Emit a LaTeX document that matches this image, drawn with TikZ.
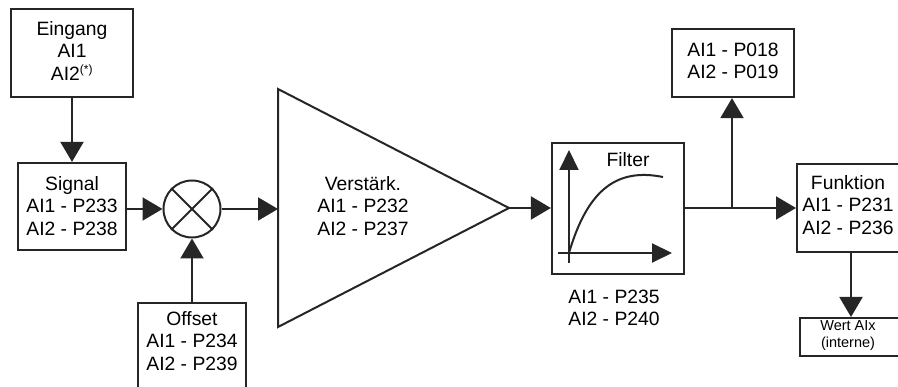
\documentclass[tikz,border=0pt]{standalone}
\usepackage{fontspec}
\setmainfont{Liberation Sans}
\usetikzlibrary{arrows.meta}
\definecolor{ink}{HTML}{262626}
\tikzset{
  box/.style={draw=ink, line width=2.2pt, fill=white, inner sep=0pt},
  lbl/.style={align=center, inner sep=0pt, text=black,
    font=\fontsize{19.3}{22.7}\selectfont},
  small/.style={align=center, inner sep=0pt, text=black,
    font=\fontsize{14.5}{17}\selectfont},
  conn/.style={draw=ink, line width=2pt,
    -{Triangle[length=20pt, width=23pt]}},
  wire/.style={draw=ink, line width=2pt},
  axis/.style={draw=ink, line width=2pt,
    -{Triangle[length=20pt, width=19pt]}},
}
\begin{document}
\begin{tikzpicture}[x=1pt, y=-1pt]
  \useasboundingbox (0,0) rectangle (898,387);
  \clip (0,0) rectangle (898,387);

  % input selection
  \node[box, minimum width=122pt, minimum height=88pt] (ein) at (72,53) {};
  \node[lbl] at (72,51) {Eingang\\AI1\\AI2\textsuperscript{\fontsize{12}{12}\selectfont(*)}};

  % signal type
  \node[box, minimum width=108pt, minimum height=87pt] (sig) at (72,206.5) {};
  \node[lbl] at (72,206) {Signal\\AI1 - P233\\AI2 - P238};

  % summing junction
  \node[draw=ink, line width=2pt, circle, minimum size=57pt, inner sep=0pt] (mix) at (192,209) {};
  \draw[ink, line width=2pt] (mix.north west) -- (mix.south east)
                             (mix.north east) -- (mix.south west);

  % offset (box runs past the lower edge)
  \node[box, minimum width=108pt, minimum height=100pt, anchor=north] (off) at (192,302) {};
  \node[lbl] at (192,341) {Offset\\AI1 - P234\\AI2 - P239};

  % amplifier
  \coordinate (ampin) at (278,209);
  \coordinate (ampout) at (509,208);
  \draw[ink, line width=2pt, line join=miter, fill=white]
    (278,89) -- (ampout) -- (278,327) -- cycle;
  \node[lbl] (amp) at (363,206) {Verstärk.\\AI1 - P232\\AI2 - P237};

  % filter
  \node[box, minimum width=132pt, minimum height=131pt] (filt) at (618,208.5) {};
  \coordinate (fy0) at (569,263);
  \coordinate (fy1) at (569,150);
  \coordinate (fx0) at (558,253);
  \coordinate (fx1) at (672,253);
  \draw[axis] (fy0) -- (fy1);
  \draw[axis] (fx0) -- (fx1);
  \draw[ink, line width=2pt] (569,253) .. controls (588,188) and (618,168) .. (663,177);
  \node[lbl] (ftitle) at (628,160) {Filter};
  \node[lbl] (fpar) at (614,308) {AI1 - P235\\AI2 - P240};

  % display parameters
  \node[box, minimum width=122pt, minimum height=68pt] (disp) at (733,63) {};
  \node[lbl] at (733,61) {AI1 - P018\\AI2 - P019};

  % function (box runs past the right edge)
  \node[box, minimum width=130pt, minimum height=88pt, anchor=west] (fun) at (796,208) {};
  \node[lbl] at (848,205) {Funktion\\AI1 - P231\\AI2 - P236};

  % internal value (box runs past the right edge)
  \node[box, line width=2pt, minimum width=130pt, minimum height=38pt, anchor=north west] (wert) at (799,317) {};
  \node[small] at (848,336) {Wert AIx\\(interne)};

  % connectors
  \coordinate (branch) at (732,208);
  \draw[conn] (ein.south) -- (sig.north);
  \draw[conn] (sig.east |- mix.west) -- (mix.west);
  \draw[conn] (off.north) -- (mix.south);
  \draw[conn] (mix.east) -- (ampin);
  \draw[conn] (ampout) -- (filt.west |- ampout);
  \draw[wire] (filt.east |- branch) -- (branch);
  \draw[conn] (branch) -- (fun.west |- branch);
  \draw[conn] (branch) -- (disp.south -| branch);
  \draw[conn] (851,252) -- (wert.north -| 851,0);
\end{tikzpicture}
\end{document}
